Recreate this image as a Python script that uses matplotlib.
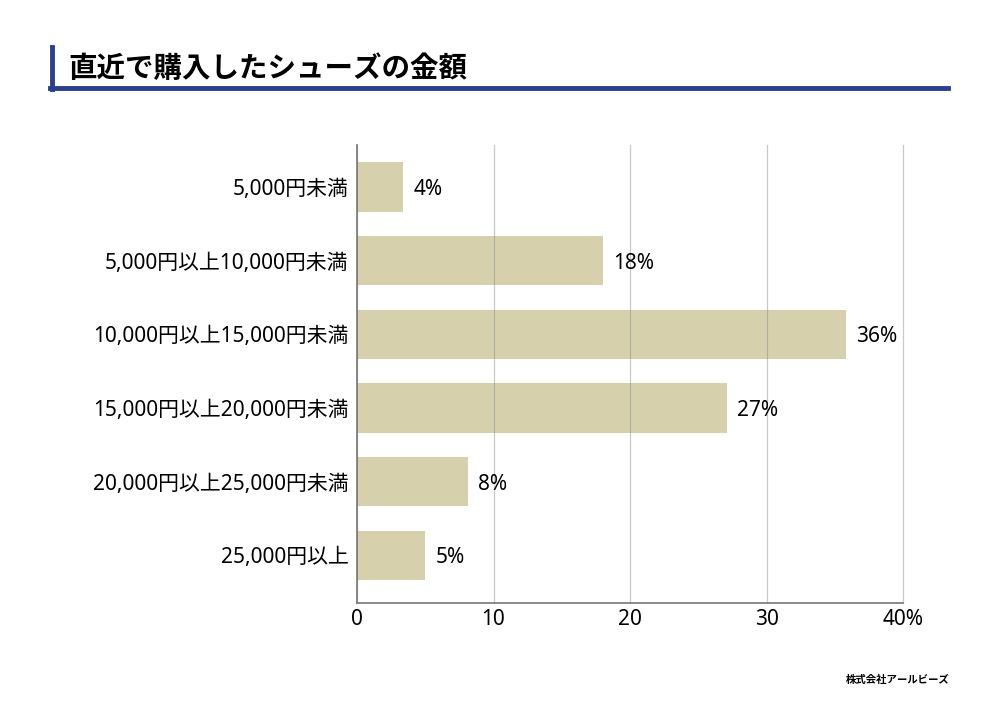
import matplotlib
matplotlib.use("Agg")
import matplotlib.pyplot as plt
from matplotlib.lines import Line2D

plt.rcParams['font.family'] = ['Noto Sans', 'Noto Sans CJK JP']

title = "直近で購入したシューズの金額"
categories = ["5,000円未満", "5,000円以上10,000円未満", "10,000円以上15,000円未満",
              "15,000円以上20,000円未満", "20,000円以上25,000円未満", "25,000円以上"]
values = [3.4, 18.0, 35.8, 27.1, 8.1, 5.0]
labels = ["4%", "18%", "36%", "27%", "8%", "5%"]
xticks = [0, 10, 20, 30, 40]
xticklabels = ["0", "10", "20", "30", "40%"]

fig = plt.figure(figsize=(10, 7.07), dpi=100)
ax = fig.add_axes([0.357, 0.147, 0.546, 0.648])

pos = list(range(len(categories)))
ax.barh(pos, values, height=0.67, color="#d6d0ad", zorder=1)
for p, v, lab in zip(pos, values, labels):
    ax.text(v + 0.75, p, lab, va="center_baseline", ha="left", fontsize=15)

ax.set_xlim(0, 40)
ax.set_ylim(5.65, -0.57)
ax.set_yticks(pos)
ax.set_yticklabels(categories, fontsize=15)
ax.set_xticks(xticks)
ax.set_xticklabels(xticklabels, fontsize=15)
ax.tick_params(axis="y", length=0, pad=6)
ax.tick_params(axis="x", length=0, pad=4)
ax.xaxis.grid(True, color="#888888", alpha=0.45, linewidth=0.9, zorder=2)
for gl in ax.get_xgridlines():
    gl.set_clip_on(False)
ax.set_axisbelow(False)
for s in ["top", "right"]:
    ax.spines[s].set_visible(False)
for s in ["left", "bottom"]:
    ax.spines[s].set_color("#777777")
    ax.spines[s].set_linewidth(1.2)
    ax.spines[s].set_zorder(3)

# title block
fig.text(0.068, 0.902, title, fontsize=20.5, fontweight="bold", va="center", ha="left",
         family=['Noto Sans CJK JP'])
fig.add_artist(Line2D([0.052, 0.052], [0.874, 0.934], color="#2b3f8f", linewidth=3.5))
fig.add_artist(Line2D([0.050, 0.948], [0.875, 0.875], color="#2b3f8f", linewidth=3.5))

fig.text(0.950, 0.038, "株式会社アールビーズ", fontsize=7.5, fontweight="bold",
         ha="right", va="center", family=['Noto Sans CJK JP'])

fig.savefig("out.png", dpi=100, facecolor="white")
